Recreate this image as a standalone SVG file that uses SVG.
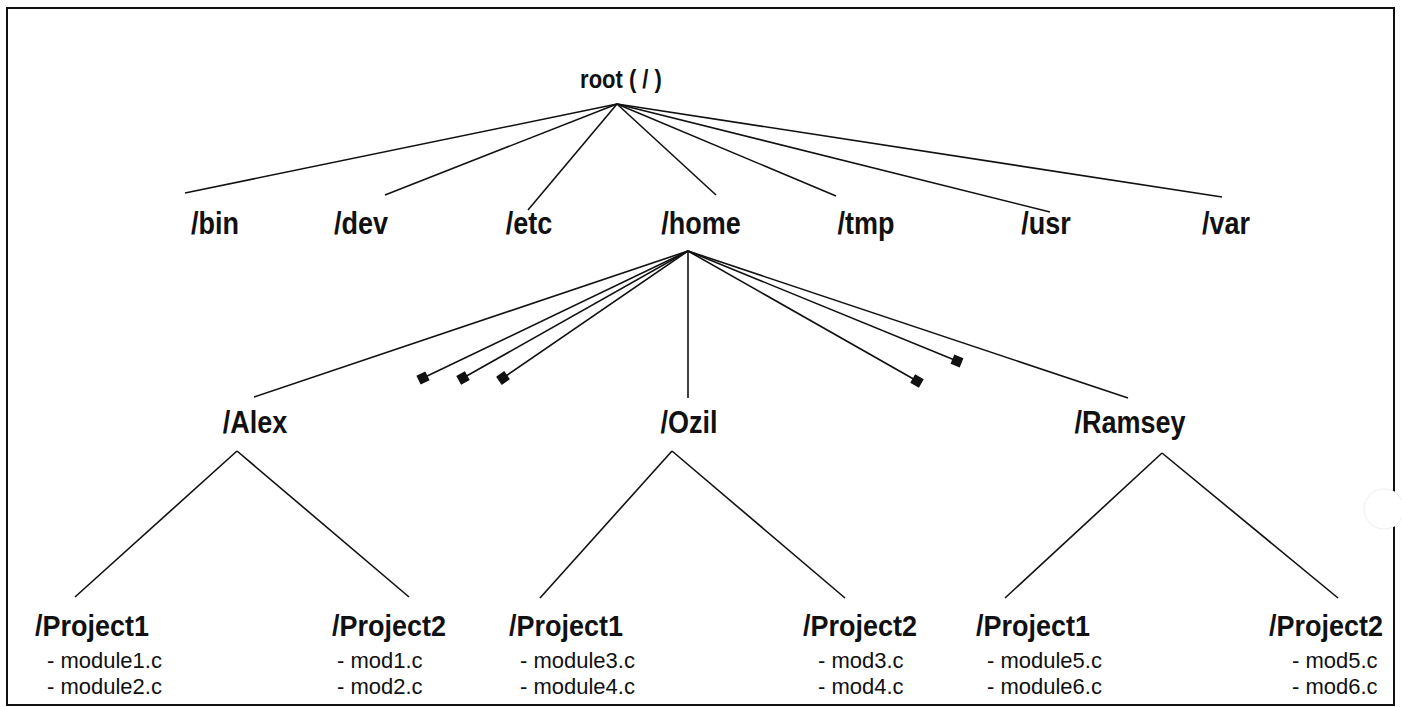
<svg xmlns="http://www.w3.org/2000/svg" width="1402" height="707" viewBox="0 0 1402 707">
<defs>
<marker id="sq" viewBox="0 0 10 10" refX="5" refY="5" markerWidth="11" markerHeight="11" markerUnits="userSpaceOnUse" orient="auto">
<rect x="0.5" y="0.5" width="9" height="9" fill="#111"/>
</marker>
<style>
.dir{font-family:"Liberation Sans",Arial,sans-serif;font-weight:bold;font-size:27px;fill:#111;text-anchor:middle}
.proj{font-family:"Liberation Sans",Arial,sans-serif;font-weight:bold;font-size:27px;fill:#111;text-anchor:middle}
.root{font-family:"Liberation Sans",Arial,sans-serif;font-weight:bold;font-size:22px;fill:#111;text-anchor:middle}
.file{font-family:"Liberation Sans",Arial,sans-serif;font-size:22px;fill:#111}
.ln{stroke:#111;stroke-width:1.6;fill:none}
</style>
</defs>
<rect width="1402" height="707" fill="#fff"/>
<rect x="7" y="8" width="1387" height="697" fill="none" stroke="#111" stroke-width="2"/>
<circle cx="1384" cy="509" r="20" fill="#fff" stroke="#eee" stroke-width="1"/>

<g id="connectors">
<line class="ln" x1="617" y1="104" x2="185" y2="193"/>
<line class="ln" x1="617" y1="104" x2="385" y2="195"/>
<line class="ln" x1="617" y1="104" x2="528" y2="210"/>
<line class="ln" x1="617" y1="104" x2="716" y2="195"/>
<line class="ln" x1="617" y1="104" x2="836" y2="196"/>
<line class="ln" x1="617" y1="104" x2="1050" y2="212"/>
<line class="ln" x1="617" y1="104" x2="1222" y2="197"/>

<line class="ln" x1="688" y1="251" x2="254" y2="397"/>
<line class="ln" x1="688" y1="251" x2="423" y2="378" marker-end="url(#sq)"/>
<line class="ln" x1="688" y1="251" x2="463" y2="378" marker-end="url(#sq)"/>
<line class="ln" x1="688" y1="251" x2="503" y2="378" marker-end="url(#sq)"/>
<line class="ln" x1="688" y1="251" x2="688" y2="398"/>
<line class="ln" x1="688" y1="251" x2="917" y2="381" marker-end="url(#sq)"/>
<line class="ln" x1="688" y1="251" x2="957" y2="361" marker-end="url(#sq)"/>
<line class="ln" x1="688" y1="251" x2="1128" y2="398"/>

<line class="ln" x1="237" y1="451" x2="75" y2="597"/>
<line class="ln" x1="237" y1="451" x2="409" y2="597"/>
<line class="ln" x1="672" y1="451" x2="540" y2="598"/>
<line class="ln" x1="672" y1="451" x2="845" y2="598"/>
<line class="ln" x1="1162" y1="453" x2="1005" y2="598"/>
<line class="ln" x1="1162" y1="453" x2="1338" y2="598"/>
</g>

<g id="n-root"><text class="root" transform="translate(621,88) scale(1,1.15)">root ( / )</text></g>
<g id="n-bin"><text class="dir" transform="translate(215,234) scale(1,1.18)">/bin</text></g>
<g id="n-dev"><text class="dir" transform="translate(361,234) scale(1,1.18)">/dev</text></g>
<g id="n-etc"><text class="dir" transform="translate(529,234) scale(1,1.18)">/etc</text></g>
<g id="n-home"><text class="dir" transform="translate(701,234) scale(1,1.18)">/home</text></g>
<g id="n-tmp"><text class="dir" transform="translate(866,234) scale(1,1.18)">/tmp</text></g>
<g id="n-usr"><text class="dir" transform="translate(1046,234) scale(1,1.18)">/usr</text></g>
<g id="n-var"><text class="dir" transform="translate(1226,234) scale(1,1.18)">/var</text></g>

<g id="n-alex"><text class="dir" transform="translate(255,433) scale(1,1.18)">/Alex</text></g>
<g id="n-ozil"><text class="dir" transform="translate(689,433) scale(1,1.18)">/Ozil</text></g>
<g id="n-ramsey"><text class="dir" transform="translate(1130,433) scale(1,1.18)">/Ramsey</text></g>

<g id="n-alex-p1"><text class="proj" transform="translate(92,636) scale(1,1.1)">/Project1</text>
<text class="file" x="47" y="668">- module1.c</text><text class="file" x="47" y="694">- module2.c</text></g>
<g id="n-alex-p2"><text class="proj" transform="translate(389,636) scale(1,1.1)">/Project2</text>
<text class="file" x="337" y="668">- mod1.c</text><text class="file" x="337" y="694">- mod2.c</text></g>
<g id="n-ozil-p1"><text class="proj" transform="translate(566,636) scale(1,1.1)">/Project1</text>
<text class="file" x="520" y="668">- module3.c</text><text class="file" x="520" y="694">- module4.c</text></g>
<g id="n-ozil-p2"><text class="proj" transform="translate(860,636) scale(1,1.1)">/Project2</text>
<text class="file" x="818" y="668">- mod3.c</text><text class="file" x="818" y="694">- mod4.c</text></g>
<g id="n-ramsey-p1"><text class="proj" transform="translate(1033,636) scale(1,1.1)">/Project1</text>
<text class="file" x="987" y="668">- module5.c</text><text class="file" x="987" y="694">- module6.c</text></g>
<g id="n-ramsey-p2"><text class="proj" transform="translate(1326,636) scale(1,1.1)">/Project2</text>
<text class="file" x="1292" y="668">- mod5.c</text><text class="file" x="1292" y="694">- mod6.c</text></g>
</svg>
